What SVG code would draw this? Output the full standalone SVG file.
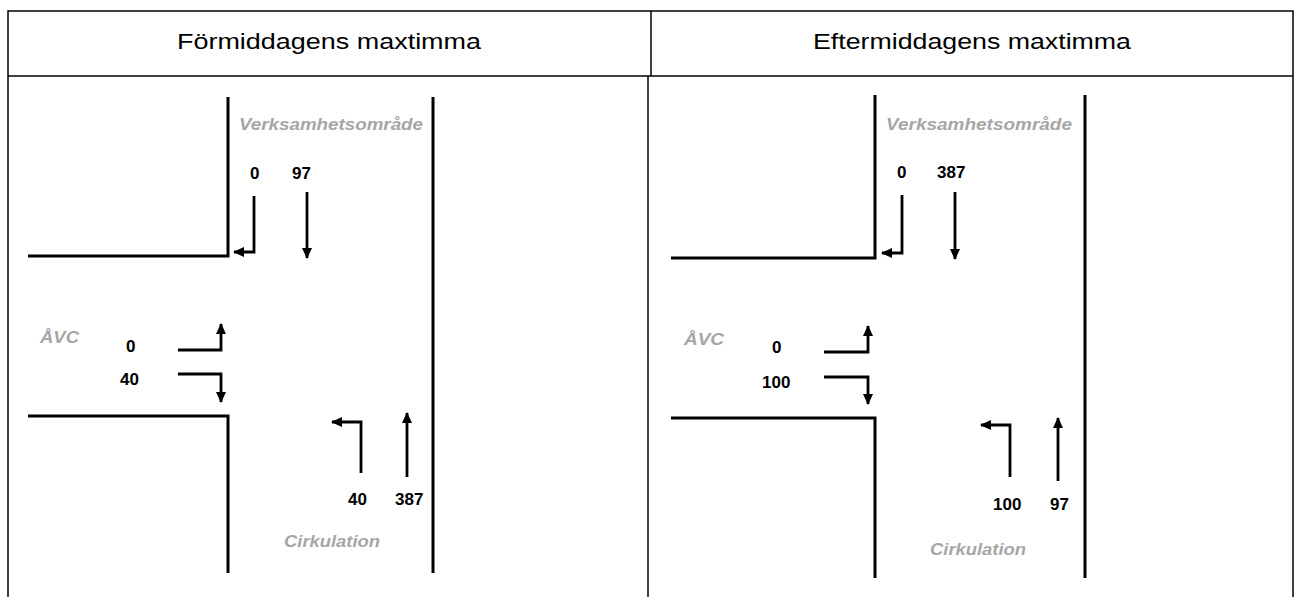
<svg xmlns="http://www.w3.org/2000/svg" width="1294" height="597" viewBox="0 0 1294 597">
  <style>
    .grid { fill: none; stroke: #000; stroke-width: 1.5; }
    .road { fill: none; stroke: #000; stroke-width: 3; }
    .flow { fill: none; stroke: #000; stroke-width: 2.8; marker-end: url(#head); }
    .head { font-family: "Liberation Sans", Arial, sans-serif; font-size: 22px; fill: #000; text-anchor: middle; }
    .num { font-family: "Liberation Sans", Arial, sans-serif; font-size: 17px; font-weight: bold; fill: #000; }
    .place { font-family: "Liberation Sans", Arial, sans-serif; font-size: 16px; font-weight: bold; font-style: italic; fill: #a6a6a6; }
  </style>
  <defs>
    <marker id="head" markerUnits="userSpaceOnUse" markerWidth="12" markerHeight="11" refX="10" refY="5" orient="auto">
      <path d="M0,0 L11,5 L0,10 z" fill="#000"/>
    </marker>
  </defs>
  <rect width="1294" height="597" fill="#fff"/>

  <!-- table frame -->
  <g id="table" class="grid">
    <path d="M8,597 V11 H1293 V597"/>
    <path d="M8,76 H1293"/>
    <path d="M651,11 V76"/>
    <path d="M648,76 V597"/>
  </g>
  <text class="head" x="329" y="49" textLength="304" lengthAdjust="spacingAndGlyphs">Förmiddagens maxtimma</text>
  <text class="head" x="972" y="49" textLength="318" lengthAdjust="spacingAndGlyphs">Eftermiddagens maxtimma</text>

  <!-- morning peak -->
  <g id="am-roads" class="road">
    <polyline points="28,256 228,256 228,97"/>
    <polyline points="28,416 228,416 228,573"/>
    <line x1="433" y1="97" x2="433" y2="573"/>
  </g>
  <g id="am-north">
    <text class="place" x="239" y="130" textLength="184" lengthAdjust="spacingAndGlyphs">Verksamhetsområde</text>
    <text class="num" x="250" y="179">0</text>
    <text class="num" x="292" y="179">97</text>
  </g>
  <g id="am-west">
    <text class="place" x="40" y="343" textLength="39" lengthAdjust="spacingAndGlyphs">ÅVC</text>
    <text class="num" x="126" y="352">0</text>
    <text class="num" x="120" y="385">40</text>
  </g>
  <g id="am-south">
    <text class="num" x="348" y="505">40</text>
    <text class="num" x="395" y="505">387</text>
    <text class="place" x="284" y="547" textLength="96" lengthAdjust="spacingAndGlyphs">Cirkulation</text>
  </g>

  <!-- afternoon peak -->
  <g id="pm-roads" class="road">
    <polyline points="671,258 875,258 875,95"/>
    <polyline points="671,418 875,418 875,578"/>
    <line x1="1085" y1="95" x2="1085" y2="578"/>
  </g>
  <g id="pm-north">
    <text class="place" x="886" y="130" textLength="186" lengthAdjust="spacingAndGlyphs">Verksamhetsområde</text>
    <text class="num" x="897" y="178">0</text>
    <text class="num" x="937" y="178">387</text>
  </g>
  <g id="pm-west">
    <text class="place" x="684" y="345" textLength="40" lengthAdjust="spacingAndGlyphs">ÅVC</text>
    <text class="num" x="772" y="353">0</text>
    <text class="num" x="762" y="388">100</text>
  </g>
  <g id="pm-south">
    <text class="num" x="993" y="510">100</text>
    <text class="num" x="1050" y="510">97</text>
    <text class="place" x="930" y="555" textLength="96" lengthAdjust="spacingAndGlyphs">Cirkulation</text>
  </g>

  <!-- turning movements -->
  <g id="connectors" class="flow">
    <path d="M254,196 V252 H234"/>
    <path d="M307,192 V258"/>
    <path d="M178,350 H221 V324"/>
    <path d="M178,374 H221 V402"/>
    <path d="M361,473 V422 H332"/>
    <path d="M407,477 V413"/>
    <path d="M902,195 V253 H882"/>
    <path d="M955,192 V259"/>
    <path d="M824,352 H868 V326"/>
    <path d="M824,377 H868 V404"/>
    <path d="M1010,477 V425 H981"/>
    <path d="M1058,481 V418"/>
  </g>
</svg>
